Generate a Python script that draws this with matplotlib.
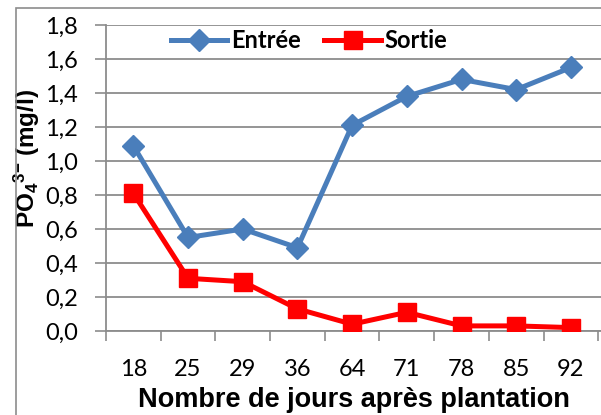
import matplotlib.pyplot as plt
from matplotlib.patches import Rectangle

plt.rcParams['mathtext.fontset'] = 'custom'
plt.rcParams['mathtext.rm'] = 'Liberation Sans:bold'
plt.rcParams['mathtext.it'] = 'Liberation Sans:bold'
plt.rcParams['mathtext.bf'] = 'Liberation Sans:bold'

# données
jours = ['18', '25', '29', '36', '64', '71', '78', '85', '92']
entree = [1.09, 0.55, 0.60, 0.49, 1.21, 1.38, 1.48, 1.42, 1.55]
sortie = [0.81, 0.31, 0.29, 0.13, 0.04, 0.11, 0.03, 0.03, 0.02]

fig = plt.figure(figsize=(6.01, 4.15), dpi=100)
ax = fig.add_axes([106/601, (415-331)/415, (601-106)/601, (331-25)/415])

# cadre extérieur
fig.patches.append(Rectangle((16/601, -0.1), 1.2, 1.1 - 8/415, transform=fig.transFigure,
                             fill=False, edgecolor='#8c8c8c', linewidth=1.2))

x = list(range(len(jours)))
ax.plot(x, entree, color='#4a7ebb', lw=3.6, marker='D', ms=11, label='Entrée', zorder=3)
ax.plot(x, sortie, color='#ff0000', lw=3.6, marker='s', ms=12.5, label='Sortie', zorder=3)

ax.set_xlim(-0.5, len(jours) - 0.5 + 0.05)
ax.set_ylim(0, 1.8)
yt = [i * 0.2 for i in range(10)]
ax.set_yticks(yt)
ax.set_yticklabels([('%.1f' % v).replace('.', ',') for v in yt])
ax.set_xticks(x)
ax.set_xticklabels(jours)
ax.set_xticks([i - 0.5 for i in range(len(jours) + 1)], minor=True)
ax.tick_params(axis='x', which='major', length=0, pad=20)
ax.tick_params(axis='x', which='minor', length=7, color='#8c8c8c', width=1.2)
ax.tick_params(axis='y', length=8, color='#8c8c8c', width=1.2, pad=12)
for lab in ax.get_xticklabels() + ax.get_yticklabels():
    lab.set_fontfamily('Lato')
    lab.set_fontsize(17)

ax.grid(axis='y', color='#8c8c8c', lw=1.3)
ax.set_axisbelow(True)
for s in ['top', 'right']:
    ax.spines[s].set_visible(False)
for s in ['left', 'bottom']:
    ax.spines[s].set_color('#8c8c8c')
    ax.spines[s].set_linewidth(1.3)

ax.set_xlabel('Nombre de jours après plantation', fontfamily='Liberation Sans',
              fontweight='bold', fontsize=19.5, labelpad=5)
ax.set_ylabel(r'PO$_{4}$$^{3{-}}$ (mg/l)', fontfamily='Liberation Sans',
              fontweight='bold', fontsize=17.5)
ax.yaxis.set_label_coords(-0.13, 0.565)

ax.legend(loc='upper center', bbox_to_anchor=(0.41, 1.04), ncol=2, frameon=False,
          prop={'family': 'Lato', 'weight': 'bold', 'size': 17},
          handlelength=2.4, columnspacing=1.0, handletextpad=0.15, borderaxespad=0.3)

fig.savefig('out.png', dpi=100)
